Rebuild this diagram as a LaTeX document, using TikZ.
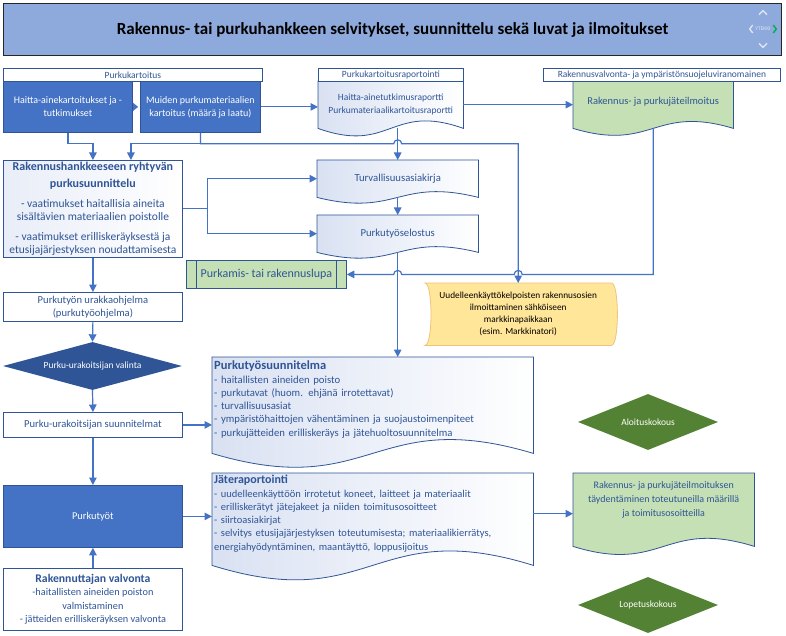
\documentclass[tikz,border=0pt]{standalone}
\usepackage{fontspec}
\setmainfont{Carlito}
\usetikzlibrary{shapes.geometric, arrows.meta, positioning, calc}

\definecolor{mainblue}{HTML}{4472C4}
\definecolor{darkblue}{HTML}{2F5597}
\definecolor{bdr}{HTML}{2F5597}
\definecolor{txt}{HTML}{2F5597}
\definecolor{hdrblue}{HTML}{8EA9DB}
\definecolor{lightgreen}{HTML}{C5E0B4}
\definecolor{darkgreen}{HTML}{548235}
\definecolor{lightyellow}{HTML}{FFE699}
\definecolor{yellowbdr}{HTML}{F0C27B}
\definecolor{docleft}{HTML}{D9E1F2}
\definecolor{navgrey}{HTML}{DCE4F2}
\definecolor{navgreen}{HTML}{00B050}

\newcommand{\bodyfont}{\fontsize{10}{13}\selectfont}
\newcommand{\hdrfont}{\fontsize{9.5}{10}\selectfont}
\newcommand{\diafont}{\fontsize{9.5}{10}\selectfont}

\pgfdeclarelayer{bg}
\pgfsetlayers{bg,main}

% wavy document outline behind a named node: node, style, wave, extra depth
\newcommand{\docshape}[4]{%
  \path[#2] (#1.north west) -- (#1.north east) -- ([yshift=-#4]#1.south east)
    .. controls ([yshift=#3-#4]#1.south) and ([yshift=-#3-#4]#1.south) .. ([yshift=-#4]#1.south west) -- cycle;}

\tikzset{
  conn/.style={draw=mainblue, line width=1.2pt, -{Triangle[length=7.5pt,width=7.5pt]}},
  box/.style={draw=bdr, line width=0.8pt, fill=white, text=txt, align=center,
              inner sep=1pt, anchor=north west, font=\bodyfont},
  bluebox/.style={box, fill=mainblue, text=white},
  hdrbox/.style={box, font=\hdrfont, minimum height=13pt, inner sep=0pt},
  doctext/.style={anchor=north west, inner sep=1pt, text=txt, align=center, font=\bodyfont},
  docfill/.style={draw=bdr, line width=0.8pt, left color=docleft, right color=white},
  greenfill/.style={draw=bdr, line width=0.8pt, fill=lightgreen},
  decision/.style={diamond, fill=darkblue, text=white, font=\diafont, inner sep=0pt, aspect=3.5},
  meeting/.style={decision, fill=darkgreen},
  navchev/.style={draw=navgrey, line width=1.4pt},
}

\begin{document}
\begin{tikzpicture}[x=1pt, y=-1pt]
  \useasboundingbox (0,0) rectangle (786,636);

  % title bar
  \node[draw=black!85, line width=1pt, fill=hdrblue, anchor=north west,
        minimum width=778pt, minimum height=52pt,
        font=\fontsize{17}{20}\selectfont\bfseries] (title) at (3,3)
        {Rakennus- tai purkuhankkeen selvitykset, suunnittelu sekä luvat ja ilmoitukset};
  \node[font=\fontsize{5.5}{6}\selectfont, text=navgrey, inner sep=0.5pt] (nav) at (763,29) {YTEKKI};
  \draw[navchev] ([xshift=-2pt,yshift=4pt]nav.west) -- ++(-3,4) -- ++(3,4);
  \draw[navchev, draw=navgreen] ([xshift=2pt,yshift=4pt]nav.east) -- ++(3,4) -- ++(-3,4);
  \draw[navchev] ([xshift=-4pt,yshift=12pt]nav.north) -- ++(4,-4) -- ++(4,4);
  \draw[navchev] ([xshift=-4pt,yshift=-12pt]nav.south) -- ++(4,4) -- ++(4,-4);

  % Purkukartoitus
  \node[hdrbox, minimum width=259pt] (kartHdr) at (3,68) {Purkukartoitus};
  \node[bluebox, minimum width=129pt, minimum height=51pt] (haitta) at (3,81)
        {Haitta-ainekartoitukset ja -\\tutkimukset};
  \node[bluebox, minimum width=120pt, minimum height=51pt] (muiden) at (140,81)
        {Muiden purkumateriaalien\\kartoitus (määrä ja laatu)};

  % raportointi
  \node[hdrbox, minimum width=145pt] (raporttiHdr) at (318,68) {Purkukartoitusraportointi};
  \node[doctext, font=\fontsize{9.5}{12.5}\selectfont, minimum width=145pt, minimum height=47pt] (raportti) at (318,81)
        {Haitta-ainetutkimusraportti\\Purkumateriaalikartoitusraportti};

  % viranomainen
  \node[hdrbox, minimum width=237pt] (viranomHdr) at (543,68)
        {Rakennusvalvonta- ja ympäristönsuojeluviranomainen};
  \node[doctext, font=\fontsize{10.5}{13}\selectfont, minimum width=160pt, minimum height=42pt] (ilmoitus) at (573,81)
        {Rakennus- ja purkujäteilmoitus};

  % suunnittelu
  \node[box, left color=docleft!60, right color=white, font=\fontsize{11.5}{13}\selectfont,
        minimum width=179pt, minimum height=97pt] (suunnittelu) at (3,160)
        {{\fontsize{12}{13}\selectfont\bfseries Rakennushankkeeseen ryhtyvän}\\[4pt]{\fontsize{12}{13}\selectfont\bfseries purkusuunnittelu}\\[7pt]
         - vaatimukset haitallisia aineita\\sisältävien materiaalien poistolle\\[7pt]
         - vaatimukset erilliskeräyksestä ja\\etusijajärjestyksen noudattamisesta};
  \node[doctext, font=\fontsize{10.7}{13}\selectfont, minimum width=161pt, minimum height=37pt] (turva) at (317,160) {Turvallisuusasiakirja};
  \node[doctext, font=\fontsize{10.7}{13}\selectfont, minimum width=161pt, minimum height=37pt] (seloste) at (317,215) {Purkutyöselostus};
  \node[box, fill=lightgreen, font=\fontsize{12}{14}\selectfont, minimum width=160pt, minimum height=28pt] (lupa) at (186,260)
        {Purkamis- tai rakennuslupa};
  \draw[draw=bdr, line width=0.8pt] ([xshift=10pt]lupa.north west) -- ([xshift=10pt]lupa.south west);
  \draw[draw=bdr, line width=0.8pt] ([xshift=-10pt]lupa.north east) -- ([xshift=-10pt]lupa.south east);

  % markkinapaikka
  \node[anchor=north west, inner sep=1pt, align=center, font=\fontsize{9.3}{12}\selectfont,
        minimum width=186pt, minimum height=62pt] (markkina) at (425,283)
        {Uudelleenkäyttökelpoisten rakennusosien\\ilmoittaminen sähköiseen\\markkinapaikkaan\\(esim. Markkinatori)};

  % vasen sarake
  \node[box, font=\fontsize{10.6}{13}\selectfont, minimum width=179pt, minimum height=29pt] (ohjelma) at (3,292)
        {Purkutyön urakkaohjelma\\(purkutyöohjelma)};
  \node[decision, minimum width=179pt, minimum height=48pt] (valinta) at (92.5,366)
        {Purku-urakoitsijan valinta};
  \node[box, font=\fontsize{10.6}{13}\selectfont, minimum width=179pt, minimum height=25pt] (urakoitsija) at (3,412)
        {Purku-urakoitsijan suunnitelmat};
  \node[bluebox, font=\fontsize{10.4}{13}\selectfont, minimum width=179pt, minimum height=62pt] (purkutyot) at (3,485) {Purkutyöt};
  \node[box, font=\fontsize{10.3}{13.3}\selectfont, minimum width=179pt, minimum height=62pt] (valvonta) at (3,568)
        {{\fontsize{11.7}{13}\selectfont\bfseries Rakennuttajan valvonta}\\-haitallisten aineiden poiston\\valmistaminen\\- jätteiden erilliskeräyksen valvonta};

  % suunnitelmat ja raportointi
  \node[doctext, align=left, text width=317pt, inner xsep=2pt, inner ysep=0pt, minimum height=84pt,
        font=\fontsize{10.7}{13.2}\selectfont] (tyosuun) at (212,357)
        {{\fontsize{12.5}{13}\selectfont\bfseries Purkutyösuunnitelma}\\[1pt]
         - haitallisten aineiden poisto\\
         - purkutavat (huom. ehjänä irrotettavat)\\
         - turvallisuusasiat\\
         - ympäristöhaittojen vähentäminen ja suojaustoimenpiteet\\
         - purkujätteiden erilliskeräys ja jätehuoltosuunnitelma};
  \node[doctext, align=left, text width=317pt, inner xsep=2pt, inner ysep=0pt, minimum height=81pt,
        font=\fontsize{10.5}{13.3}\selectfont] (jate) at (212,473)
        {{\fontsize{12}{13}\selectfont\bfseries Jäteraportointi}\\
         - uudelleenkäyttöön irrotetut koneet, laitteet ja materiaalit\\
         - erilliskerätyt jätejakeet ja niiden toimitusosoitteet\\
         - siirtoasiakirjat\\
         - selvitys etusijajärjestyksen toteutumisesta; materiaalikierrätys,\\
         energiahyödyntäminen, maantäyttö, loppusijoitus};
  \node[doctext, font=\fontsize{10}{14}\selectfont, minimum width=181pt, minimum height=54pt] (taydennys) at (573,473)
        {Rakennus- ja purkujäteilmoituksen\\täydentäminen toteutuneilla määrillä\\ja toimitusosoitteilla};

  % kokoukset
  \node[meeting, minimum width=140pt, minimum height=56pt] (aloitus) at (648,422) {Aloituskokous};
  \node[meeting, minimum width=140pt, minimum height=56pt] (lopetus) at (648,605) {Lopetuskokous};

  % shapes behind the text nodes
  \begin{pgfonlayer}{bg}
    \fill[white] (0,0) rectangle (786,636);
    \docshape{raportti}{docfill}{26pt}{0pt}
    \docshape{ilmoitus}{greenfill}{24pt}{5pt}
    \docshape{turva}{docfill}{20pt}{0pt}
    \docshape{seloste}{docfill}{20pt}{0pt}
    \docshape{tyosuun}{docfill}{48pt}{12pt}
    \docshape{jate}{docfill}{50pt}{11pt}
    \docshape{taydennys}{greenfill}{28pt}{19pt}
    \path[draw=yellowbdr, line width=0.8pt, fill=lightyellow]
      (markkina.north west) -- (markkina.north east)
      .. controls ([xshift=8pt]markkina.north east) and ([xshift=8pt]markkina.south east) .. (markkina.south east)
      -- (markkina.south west)
      .. controls ([xshift=8pt]markkina.south west) and ([xshift=8pt]markkina.north west) .. (markkina.north west) -- cycle;
  \end{pgfonlayer}

  % connectors
  \draw[draw=mainblue, line width=0.1pt, -{Triangle[length=5pt,width=8pt]}, shorten >=2pt] (haitta.east) -- (muiden.west);
  \draw[conn] (muiden.east) -- (muiden.east -| raportti.west);
  \draw[conn] (raportti.east) -- (raportti.east -| ilmoitus.west);
  \draw[conn] (haitta.south) -- ++(0,11) -| (suunnittelu.north);
  \draw[conn] (muiden.south) -- ++(0,11) -| ([xshift=38pt]suunnittelu.north);
  \draw[conn] (muiden.south) -- ++(0,11) coordinate (m1)
        -- ($(m1 -| turva.north)+(-4,0)$) arc[start angle=180, end angle=0, radius=4pt]
        -- (m1 -| markkina.north) -- (markkina.north);
  \draw[conn] (turva.north |- raportti.south) -- (turva.north);
  \draw[conn] (suunnittelu.east) -- ++(25,0) |- (turva.west);
  \draw[conn] (suunnittelu.east) -- ++(25,0) |- (seloste.west);
  \draw[conn] (turva.south) -- (seloste.north);
  \draw[conn] (seloste.south) -- (seloste.south |- tyosuun.north);
  \draw[conn] ([yshift=-5pt]ilmoitus.south) -- (ilmoitus.south |- lupa.east)
        -- ($(markkina.north |- lupa.east)+(4,0)$) arc[start angle=0, end angle=180, radius=4pt]
        -- ($(seloste.south |- lupa.east)+(4,0)$) arc[start angle=0, end angle=180, radius=4pt]
        -- (lupa.east);
  \draw[conn] (suunnittelu.south) -- (ohjelma.north);
  \draw[conn] (ohjelma.south) -- (valinta.north);
  \draw[conn] (valinta.south) -- (urakoitsija.north);
  \draw[conn] (urakoitsija.east) -- (urakoitsija.east -| tyosuun.west);
  \draw[conn] (urakoitsija.south) -- (purkutyot.north);
  \draw[conn] (valvonta.north) -- (purkutyot.south);
  \draw[conn] (purkutyot.east) -- (purkutyot.east -| jate.west);
  \draw[conn] (jate.east) -- (jate.east -| taydennys.west);
\end{tikzpicture}
\end{document}
